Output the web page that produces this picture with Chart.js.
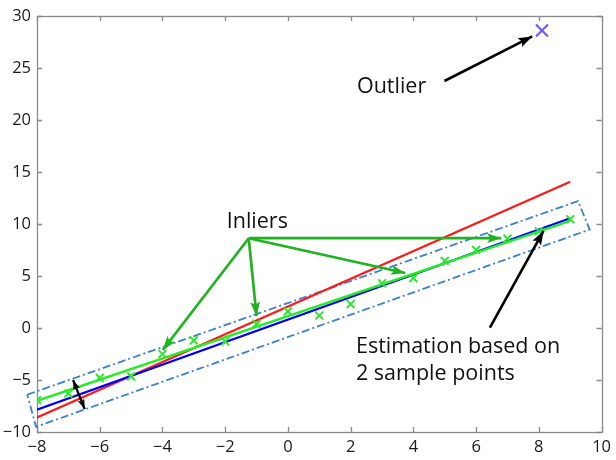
<!DOCTYPE html>
<html>
<head>
<meta charset="utf-8">
<script src="https://cdn.jsdelivr.net/npm/chart.js@4/dist/chart.umd.min.js"></script>
<style>
  html, body { margin: 0; padding: 0; background: #ffffff; }
  #wrap { width: 616px; height: 460px; }
</style>
</head>
<body>
<div id="wrap"><canvas id="c" width="616" height="460"></canvas></div>
<script>
// ---- data ----
const xTicks = [-8, -6, -4, -2, 0, 2, 4, 6, 8, 10];
const yTicks = [-10, -5, 0, 5, 10, 15, 20, 25, 30];

const inlierX = [-8, -7, -6, -5, -4, -3, -2, -1, 0, 1, 2, 3, 4, 5, 6, 7, 8, 9];
const inlierY = [-6.95, -6.3, -4.8, -4.65, -2.5, -1.2, -1.3, 0.4, 1.6, 1.2, 2.3, 4.3, 4.8, 6.45, 7.5, 8.6, 9.3, 10.45];

const outlierX = [8.1];
const outlierY = [28.6];

const redX = [-8, 9];
const redY = [-8.6, 14.05];

const blueX = [-8, 9];
const blueY = [-7.85, 10.55];

const greenX = [-8, 9];
const greenY = [-7.0, 10.3];

const bandX = [-8.31, 9.25, 9.62, -8.03, -8.31];
const bandY = [-6.41, 12.2, 9.46, -9.5, -6.41];

const arrowOutlierX = [4.99, 7.79];
const arrowOutlierY = [23.74, 28.03];

const arrowEstX = [6.44, 8.15];
const arrowEstY = [0.04, 9.33];

const arrowDblX = [-6.85, -6.48];
const arrowDblY = [-5.0, -7.8];

const inlArrowStartX = -1.25, inlArrowStartY = 8.63;
const inlArrowEndX = [6.8, 3.74, -1.0, -3.99];
const inlArrowEndY = [8.63, 5.29, 1.15, -2.12];

const labels = ['Outlier', 'Inliers', 'Estimation based on', '2 sample points'];
const labelX = [2.2, -1.95, 2.17, 2.17];
const labelY = [22.62, 9.65, -2.38, -4.98];

// ---- helpers ----
const pts = (xs, ys) => xs.map((x, i) => ({ x: x, y: ys[i] }));
const FONT = '"Open Sans", "Noto Sans", sans-serif';

function lineDs(xs, ys, color, width, order, extra) {
  return Object.assign({
    data: pts(xs, ys), showLine: true, borderColor: color, backgroundColor: color,
    borderWidth: width, pointRadius: 0, pointHoverRadius: 0, order: order, fill: false, tension: 0
  }, extra || {});
}

const datasets = [
  lineDs(redX, redY, '#ff1a1a', 2.3, 6),
  lineDs(blueX, blueY, '#0000ff', 2.3, 5),
  lineDs(greenX, greenY, '#22ee22', 2.3, 4),
  lineDs(bandX, bandY, '#3a80d4', 1.8, 7, { borderDash: [8, 3, 2, 3], clip: false }),
  { data: pts(inlierX, inlierY), showLine: false, pointStyle: 'crossRot', pointRadius: 5.5,
    borderColor: '#2ee62e', backgroundColor: '#2ee62e', pointBorderWidth: 2, order: 3 },
  { data: pts(outlierX, outlierY), showLine: false, pointStyle: 'crossRot', pointRadius: 8.5,
    borderColor: '#6a5cff', backgroundColor: '#6a5cff', pointBorderWidth: 2.2, order: 3 },
  lineDs(arrowOutlierX, arrowOutlierY, '#000000', 2.6, 1, { arrow: 'end', head: 14 }),
  lineDs(arrowEstX, arrowEstY, '#000000', 2.6, 1, { arrow: 'end', head: 14 }),
  lineDs(arrowDblX, arrowDblY, '#000000', 2.3, 1, { arrow: 'both', head: 10 })
];
inlArrowEndX.forEach((ex, i) => {
  datasets.push(lineDs([inlArrowStartX, ex], [inlArrowStartY, inlArrowEndY[i]], '#1fb41f', 2.7, 2, { arrow: 'end', head: 14 }));
});

// ---- plugins ----
const framePlugin = {
  id: 'frame',
  beforeDatasetsDraw(chart) {
    const { ctx, chartArea: a, scales: { x, y } } = chart;
    ctx.save();
    ctx.strokeStyle = '#8a8a8a';
    ctx.lineWidth = 1.3;
    ctx.strokeRect(Math.round(a.left) + 0.5, Math.round(a.top) + 0.5,
                   Math.round(a.right - a.left), Math.round(a.bottom - a.top));
    const tl = 5;
    ctx.beginPath();
    x.ticks.forEach(t => {
      const px = Math.round(x.getPixelForValue(t.value)) + 0.5;
      ctx.moveTo(px, a.bottom); ctx.lineTo(px, a.bottom - tl);
      ctx.moveTo(px, a.top); ctx.lineTo(px, a.top + tl);
    });
    y.ticks.forEach(t => {
      const py = Math.round(y.getPixelForValue(t.value)) + 0.5;
      ctx.moveTo(a.left, py); ctx.lineTo(a.left + tl, py);
      ctx.moveTo(a.right, py); ctx.lineTo(a.right - tl, py);
    });
    ctx.stroke();
    ctx.restore();
  }
};

function drawHead(ctx, from, to, len, w) {
  const ang = Math.atan2(to.y - from.y, to.x - from.x);
  const c = Math.cos(ang), s = Math.sin(ang);
  const bx = to.x - len * c, by = to.y - len * s;
  ctx.beginPath();
  ctx.moveTo(to.x, to.y);
  ctx.lineTo(bx + (w / 2) * s, by - (w / 2) * c);
  ctx.lineTo(to.x - len * 0.8 * c, to.y - len * 0.8 * s);
  ctx.lineTo(bx - (w / 2) * s, by + (w / 2) * c);
  ctx.closePath();
  ctx.fill();
}

const arrowPlugin = {
  id: 'arrows',
  afterDatasetsDraw(chart) {
    const ctx = chart.ctx;
    ctx.save();
    chart.data.datasets.forEach((ds, i) => {
      if (!ds.arrow) return;
      const el = chart.getDatasetMeta(i).data;
      const p0 = el[0], p1 = el[el.length - 1];
      const L = ds.head || 14, W = L * 0.7;
      ctx.fillStyle = ds.borderColor;
      drawHead(ctx, { x: p0.x, y: p0.y }, { x: p1.x, y: p1.y }, L, W);
      if (ds.arrow === 'both') drawHead(ctx, { x: p1.x, y: p1.y }, { x: p0.x, y: p0.y }, L, W);
    });
    // text labels
    const { scales: { x, y } } = chart;
    ctx.fillStyle = '#111111';
    ctx.font = '21.5px ' + FONT;
    ctx.textAlign = 'left';
    ctx.textBaseline = 'alphabetic';
    labels.forEach((t, i) => {
      ctx.fillText(t, x.getPixelForValue(labelX[i]), y.getPixelForValue(labelY[i]));
    });
    ctx.restore();
  }
};

const fmt = v => String(v).replace('-', '\u2212');

new Chart(document.getElementById('c'), {
  type: 'scatter',
  data: { datasets: datasets },
  options: {
    responsive: false,
    animation: false,
    events: [],
    layout: { padding: { top: 13, right: 11, left: 0, bottom: 0 } },
    plugins: { legend: { display: false }, tooltip: { enabled: false } },
    scales: {
      x: {
        type: 'linear', min: -8, max: 10,
        grid: { display: false, drawTicks: false },
        border: { display: false },
        afterBuildTicks: s => { s.ticks = xTicks.map(v => ({ value: v })); },
        afterFit: s => { s.height = 28; },
        ticks: { callback: fmt, color: '#1a1a1a', font: { family: FONT, size: 16.5 }, padding: 5, maxRotation: 0, autoSkip: false }
      },
      y: {
        type: 'linear', min: -10, max: 30,
        grid: { display: false, drawTicks: false },
        border: { display: false },
        afterBuildTicks: s => { s.ticks = yTicks.map(v => ({ value: v })); },
        afterFit: s => { s.width = 37; },
        ticks: { callback: fmt, color: '#1a1a1a', font: { family: FONT, size: 16.5 }, padding: 6, autoSkip: false }
      }
    }
  },
  plugins: [framePlugin, arrowPlugin]
});
</script>
</body>
</html>
